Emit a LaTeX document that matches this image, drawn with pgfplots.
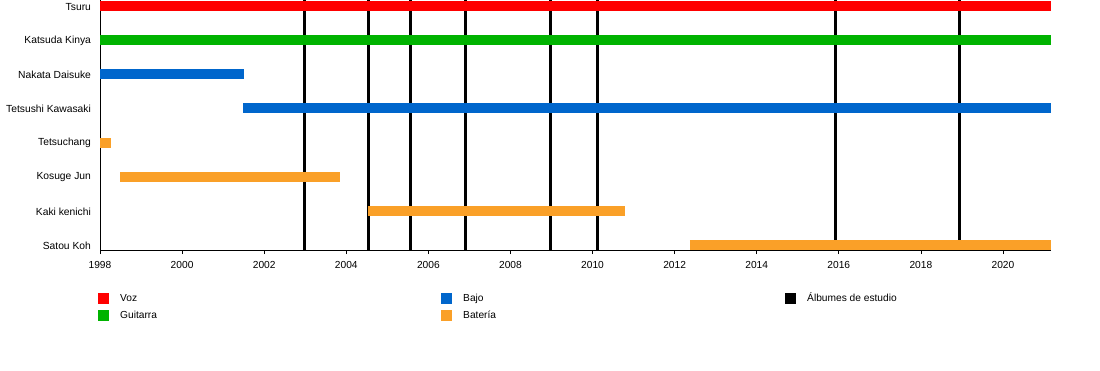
\documentclass[border=0pt]{standalone}
\usepackage{pgfplots}
\pgfplotsset{compat=1.18}
\usepackage{fontspec}
\setmainfont{Liberation Sans}
\definecolor{cvoz}{RGB}{255,0,0}
\definecolor{cguit}{RGB}{0,179,0}
\definecolor{cbajo}{RGB}{0,102,204}
\definecolor{cbat}{RGB}{250,160,40}
\begin{document}
\fontsize{10.2}{12}\selectfont
\begin{tikzpicture}[x=1pt,y=1pt]
\useasboundingbox (0,0) rectangle (1100,370);
\begin{axis}[
  at={(100pt,120pt)}, anchor=south west,
  scale only axis, width=951pt, height=250pt,
  xmin=1998, xmax=2021.17, ymin=-0.147, ymax=7.176,
  axis x line=bottom, axis y line=left,
  axis line style={-, line width=1pt, black},
  xtick={1998,2000,...,2020}, minor x tick num=1,
  tick align=outside, major tick length=4pt, minor tick length=4pt,
  tick style={black, line width=0.8pt},
  ytick={0,...,7},
  yticklabels={Satou Koh, Kaki kenichi, Kosuge Jun, Tetsuchang, Tetsushi Kawasaki, Nakata Daisuke, Katsuda Kinya, Tsuru},
  ytick style={draw=none},
  yticklabel style={font=\fontsize{10.3}{12}\selectfont, xshift=-1.5pt, yshift=-0.5pt},
  xticklabel style={font=\fontsize{10.2}{12}\selectfont, yshift=-3.5pt, /pgf/number format/1000 sep={}, /pgf/number format/assume math mode=true},
  unbounded coords=jump,
  clip=true,
]
% studio albums
\addplot[black, line width=3pt] coordinates {
 (2002.98,-1) (2002.98,8) (nan,nan)
 (2004.54,-1) (2004.54,8) (nan,nan)
 (2005.56,-1) (2005.56,8) (nan,nan)
 (2006.90,-1) (2006.90,8) (nan,nan)
 (2008.98,-1) (2008.98,8) (nan,nan)
 (2010.13,-1) (2010.13,8) (nan,nan)
 (2015.91,-1) (2015.91,8) (nan,nan)
 (2018.93,-1) (2018.93,8)
};
% Voz
\addplot[cvoz, line width=10pt] coordinates {(1998,7) (2021.17,7)};
% Guitarra
\addplot[cguit, line width=10pt] coordinates {(1998,6) (2021.17,6)};
% Bajo
\addplot[cbajo, line width=10pt] coordinates {(1998,5) (2001.51,5)};
\addplot[cbajo, line width=10pt] coordinates {(2001.49,4) (2021.17,4)};
% Bateria
\addplot[cbat, line width=10pt] coordinates {(1998,3) (1998.27,3)};
\addplot[cbat, line width=10pt] coordinates {(1998.49,2) (2003.85,2)};
\addplot[cbat, line width=10pt] coordinates {(2004.54,1) (2010.80,1)};
\addplot[cbat, line width=10pt] coordinates {(2012.37,0) (2021.17,0)};
\end{axis}
% legend
\fill[cvoz] (98,66.5) rectangle (109,77.5);
\node[anchor=base west, inner sep=0pt] at (120,68.4) {Voz};
\fill[cguit] (98,49.5) rectangle (109,60.5);
\node[anchor=base west, inner sep=0pt] at (120,51.4) {Guitarra};
\fill[cbajo] (441,66.5) rectangle (452,77.5);
\node[anchor=base west, inner sep=0pt] at (463,68.4) {Bajo};
\fill[cbat] (441,49.5) rectangle (452,60.5);
\node[anchor=base west, inner sep=0pt] at (463,51.4) {Batería};
\fill[black] (785,66.5) rectangle (796,77.5);
\node[anchor=base west, inner sep=0pt] at (807,68.4) {Álbumes de estudio};
\end{tikzpicture}
\end{document}
